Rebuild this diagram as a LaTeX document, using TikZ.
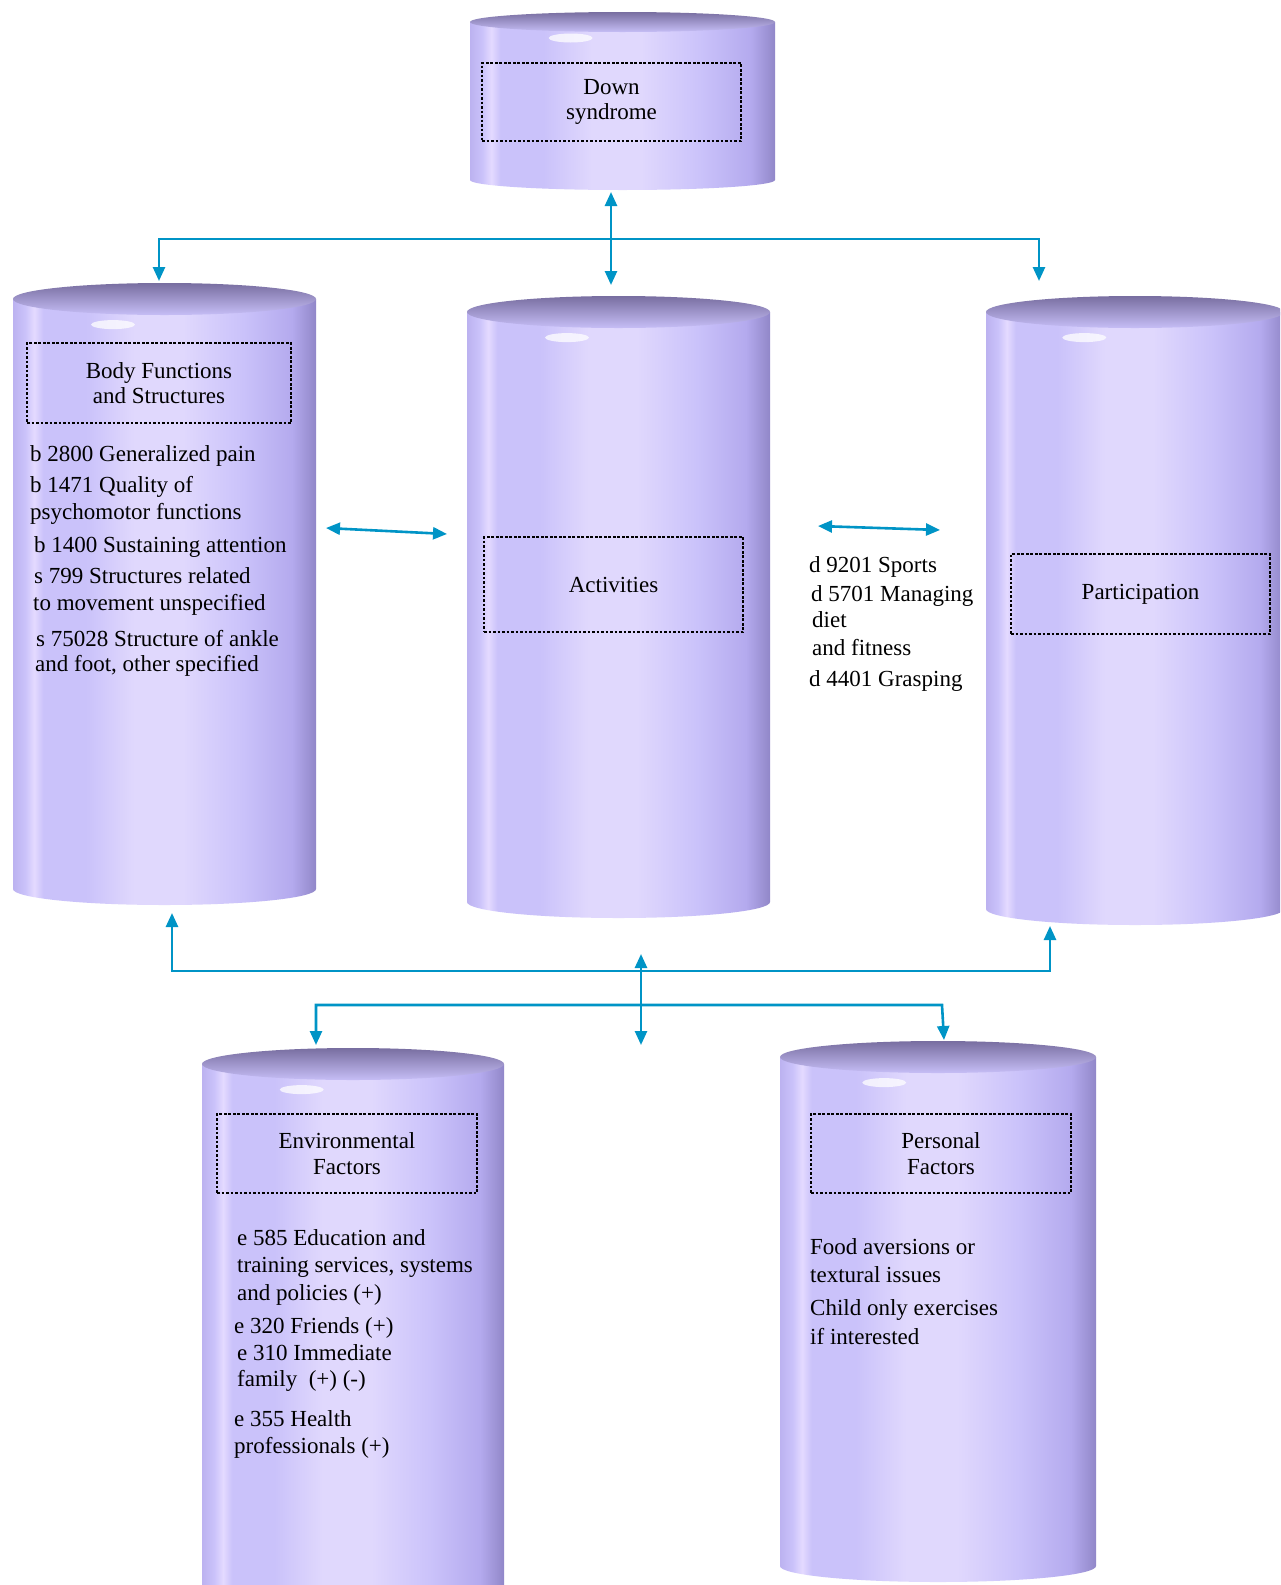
\documentclass[tikz,border=0pt]{standalone}
\usepackage{fontspec}
\setmainfont{Liberation Serif}
\usetikzlibrary{arrows.meta}
\definecolor{arrowblue}{RGB}{0,148,198}
\definecolor{cylEdgeL}{RGB}{188,178,240}
\definecolor{cylStripe}{RGB}{228,218,255}
\definecolor{cylBody}{RGB}{202,194,250}
\definecolor{cylLight}{RGB}{224,216,253}
\definecolor{cylRight}{RGB}{180,170,238}
\definecolor{cylEdgeR}{RGB}{145,135,200}
\definecolor{cylTop}{RGB}{120,110,160}
\definecolor{cylTopM}{RGB}{165,156,215}
\definecolor{cylTopB}{RGB}{198,190,246}
\pgfdeclarehorizontalshading{cylbody}{100bp}{color(0bp)=(cylEdgeL); color(25bp)=(cylEdgeL); color(27bp)=(cylBody); color(28.5bp)=(cylStripe); color(30bp)=(cylBody); color(37bp)=(cylBody); color(45bp)=(cylLight); color(53bp)=(cylLight); color(63bp)=(cylBody); color(71bp)=(cylRight); color(75bp)=(cylEdgeR); color(100bp)=(cylEdgeR)}
\newcommand\cylshape[5]{%
  \pgfmathsetmacro\cylcx{(#1+#3)/2}%
  \pgfmathsetmacro\cylrx{(#3-#1)/2}%
  \pgfmathsetmacro\cylyt{-(#2)-(#5)}%
  \pgfmathsetmacro\cylyb{-(#4)+(#5)}%
  \shade[shading=cylbody] (#1,\cylyt) -- (#1,\cylyb) arc[start angle=180,end angle=360,x radius=\cylrx,y radius=#5] -- (#3,\cylyt) -- cycle;
  \shade[top color=cylTop, middle color=cylTopM, bottom color=cylTopB] (\cylcx,\cylyt) ellipse[x radius=\cylrx, y radius=#5];
  \fill[white,opacity=.75] ({#1+0.33*(#3-#1)}, {-(#2)-2.6*(#5)}) ellipse[x radius=22, y radius=4.5];
}
\tikzset{
  txt/.style={inner sep=0pt, font=\fontsize{23}{26}\selectfont},
  lt/.style={txt, anchor=base west},
  dbox/.style={draw=black, line width=2.4pt, dash pattern=on 2.6pt off 1.9pt, inner sep=0pt, align=center, font=\fontsize{23}{25.5}\selectfont},
  conn/.style={draw=arrowblue, line width=2.6pt, {Triangle[length=14pt,width=12pt]}-{Triangle[length=14pt,width=12pt]}},
}
\begin{document}
\begin{tikzpicture}[x=1pt,y=1pt]
\clip (0,0) rectangle (1280,-1585);
\fill[white] (0,0) rectangle (1280,-1585);

% cylinders
\cylshape{470}{12}{775}{190}{10}
\cylshape{13}{283}{316}{905}{16}
\cylshape{467}{296}{770}{918}{16}
\cylshape{986}{296}{1284}{925}{16}
\cylshape{202}{1048}{504}{1610}{16}
\cylshape{780}{1041}{1096}{1582}{16}

% titled boxes
\node[dbox, minimum width=259pt, minimum height=78pt] (down) at (611.5,-102) {Down\\ syndrome};
\node[dbox, minimum width=264pt, minimum height=80pt] (body) at (159,-383) {Body Functions\\ and Structures};
\node[dbox, minimum width=259pt, minimum height=95pt] (act) at (613.5,-584.5) {Activities};
\node[dbox, minimum width=259pt, minimum height=80pt] (part) at (1140.5,-594) {\raisebox{-4pt}{Participation}};
\node[dbox, minimum width=260pt, minimum height=79pt] (env) at (347,-1153.5) {Environmental\\ Factors};
\node[dbox, minimum width=260pt, minimum height=79pt] (pers) at (941,-1153.5) {Personal\\ Factors};

% body list
\node[lt] (b1) at (30,-461) {b 2800 Generalized pain};
\node[lt] (b2) at (30,-492) {b 1471 Quality of};
\node[lt] (b3) at (30,-519) {psychomotor functions};
\node[lt] (b4) at (34,-552) {b 1400 Sustaining attention};
\node[lt] (b5) at (34,-583) {s 799 Structures related};
\node[lt] (b6) at (33,-610) {to movement unspecified};
\node[lt] (b7) at (36,-646) {s 75028 Structure of ankle};
\node[lt] (b8) at (35,-671) {and foot, other specified};

% activities list
\node[lt] (d1) at (809,-572) {d 9201 Sports};
\node[lt] (d2) at (811,-601) {d 5701 Managing};
\node[lt] (d3) at (812,-627) {diet};
\node[lt] (d4) at (812,-655) {and fitness};
\node[lt] (d5) at (809,-686) {d 4401 Grasping};

% environmental list
\node[lt] (e1) at (237,-1245) {e 585 Education and};
\node[lt] (e2) at (237,-1272) {training services, systems};
\node[lt] (e3) at (237,-1300) {and policies (+)};
\node[lt] (e4) at (234,-1333) {e 320 Friends (+)};
\node[lt] (e5) at (237,-1360) {e 310 Immediate};
\node[lt] (e6) at (237,-1386) {family\ \ (+) (-)};
\node[lt] (e7) at (234,-1426) {e 355 Health};
\node[lt] (e8) at (234,-1453) {professionals (+)};

% personal list
\node[lt] (p1) at (810,-1254) {Food aversions or};
\node[lt] (p2) at (810,-1282) {textural issues};
\node[lt] (p3) at (810,-1315) {Child only exercises};
\node[lt] (p4) at (810,-1344) {if interested};

% connector coordinates
\coordinate (dsB) at (611,-192);
\coordinate (actT) at (611,-285);
\coordinate (tL) at (159,-281);
\coordinate (tLc) at (159,-239);
\coordinate (tRc) at (1039,-239);
\coordinate (tR) at (1039,-281);
\coordinate (bodyR) at (326,-528);
\coordinate (actL) at (447,-534);
\coordinate (actR) at (818,-526);
\coordinate (partL) at (940,-530);
\coordinate (bodyB) at (172,-913);
\coordinate (bLc) at (172,-971);
\coordinate (bRc) at (1050,-971);
\coordinate (partB) at (1050,-926);
\coordinate (actB) at (641,-954);
\coordinate (midB) at (641,-1045);
\coordinate (envT) at (316,-1045);
\coordinate (eLc) at (316,-1005);
\coordinate (eRc) at (942,-1005);
\coordinate (persT) at (944,-1040);

% connectors
\draw[conn] (dsB) -- (actT);
\draw[conn] (tL) -- (tLc) -- (tRc) -- (tR);
\draw[conn] (bodyR) -- (actL);
\draw[conn] (actR) -- (partL);
\draw[conn] (bodyB) -- (bLc) -- (bRc) -- (partB);
\draw[conn] (actB) -- (midB);
\draw[conn] (envT) -- (eLc) -- (eRc) -- (persT);
\end{tikzpicture}
\end{document}
